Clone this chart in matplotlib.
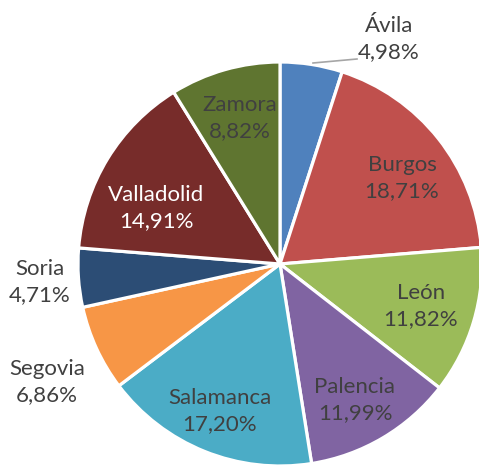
import numpy as np
import matplotlib
matplotlib.use("Agg")
import matplotlib.pyplot as plt

provinces = ["Ávila", "Burgos", "León", "Palencia", "Salamanca",
             "Segovia", "Soria", "Valladolid", "Zamora"]
shares = [4.98, 18.71, 11.82, 11.99, 17.20, 6.86, 4.71, 14.91, 8.82]
colors = ["#4F81BD", "#C0504D", "#9BBB59", "#8064A2", "#4BACC6",
          "#F79646", "#2C4D75", "#772C2A", "#5F7530"]
text_colors = ["#404040"] * 7 + ["#FFFFFF", "#404040"]

W, H = 479, 466
fig = plt.figure(figsize=(W / 100, H / 100), dpi=100)
ax = fig.add_axes([0, 0, 1, 1])

cx, cy, R = 280, 466 - 264, 202
wedges, _ = ax.pie(shares, colors=colors, startangle=90, counterclock=False,
                   center=(cx, cy), radius=R, frame=True,
                   wedgeprops=dict(edgecolor="white", linewidth=2.3))
ax.set_xlim(0, W)
ax.set_ylim(0, H)
ax.set_aspect("equal")
ax.axis("off")

font = ["Lato", "DejaVu Sans"]
fs = 16
# label layout (Excel best-fit placement), pixel positions of label centres
label_pos = {"Ávila": (389, 39), "Burgos": (402, 178), "León": (421, 306),
             "Palencia": (355, 400), "Salamanca": (220, 411),
             "Segovia": (47, 382), "Soria": (40, 282),
             "Valladolid": (156, 208), "Zamora": (240, 118)}

for name, val, tc in zip(provinces, shares, text_colors):
    label = f"{name}\n{val:.2f}%".replace(".", ",")
    x, y = label_pos[name]
    ax.text(x, H - y, label, ha="center", va="center", fontsize=fs, color=tc,
            family=font, linespacing=1.38)

# leader line for Ávila
ax.plot([313, 357], [H - 63, H - 59], color="#A6A6A6", lw=1.2)

fig.savefig("out.png", dpi=100)
